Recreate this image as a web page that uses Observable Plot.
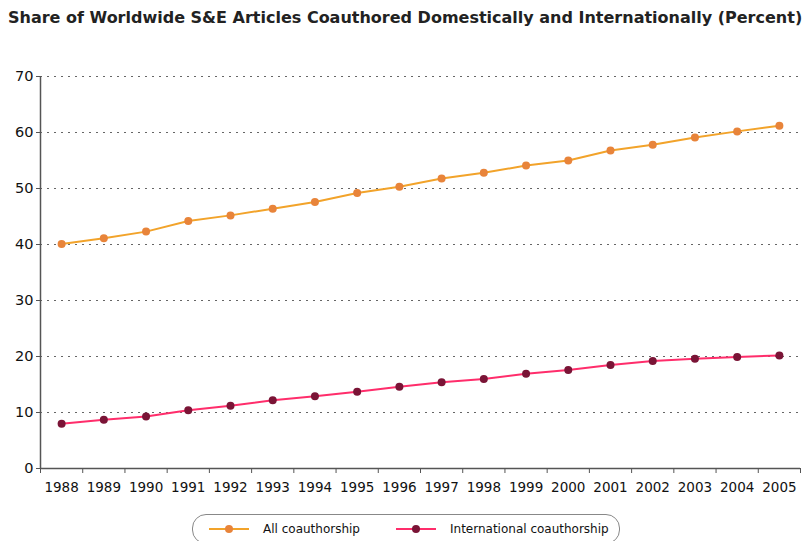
<!DOCTYPE html>
<html>
<head>
<meta charset="utf-8">
<script src="https://cdn.jsdelivr.net/npm/d3@7"></script>
<script src="https://cdn.jsdelivr.net/npm/@observablehq/plot@0.6"></script>
<style>
  body { margin: 0; background: #fff; font-family: "DejaVu Sans", sans-serif; }
  #title { height: 36px; line-height: 36px; padding-left: 8px; font-size: 16px; font-weight: bold; color: #222; white-space: nowrap; }
  #legend { position: absolute; left: 192px; top: 514px; width: 428px; height: 30px; border: 1.5px solid #888; border-radius: 14px; box-sizing: border-box; display: flex; align-items: center; font-size: 12px; color: #111; }
  .item { display: flex; align-items: center; }
  .sym { position: relative; width: 40px; height: 10px; margin-right: 14px; }
  .sym .ln { position: absolute; left: 0; right: 0; top: 4px; height: 2px; }
  .sym .dt { position: absolute; left: 16px; top: 1px; width: 8px; height: 8px; border-radius: 50%; }
</style>
</head>
<body>
<div id="title">Share of Worldwide S&amp;E Articles Coauthored Domestically and Internationally (Percent)</div>
<div id="chart"></div>
<div id="legend"></div>
<script>
const years = [1988,1989,1990,1991,1992,1993,1994,1995,1996,1997,1998,1999,2000,2001,2002,2003,2004,2005];
const allCoauthorship = [40.1,41.1,42.3,44.2,45.2,46.4,47.6,49.2,50.3,51.8,52.8,54.1,55.0,56.8,57.8,59.1,60.2,61.2];
const internationalCoauthorship = [8.0,8.7,9.3,10.4,11.2,12.2,12.9,13.7,14.6,15.4,16.0,16.9,17.6,18.5,19.2,19.6,19.9,20.2];
const yTicks = [0,10,20,30,40,50,60,70];
const seriesNames = ["All coauthorship", "International coauthorship"];
const lineColors = ["#f2a32a", "#ff2d6b"];
const dotColors = ["#e8843a", "#7a1436"];

const data = [];
years.forEach((y, i) => {
  data.push({year: y, value: allCoauthorship[i], series: seriesNames[0]});
  data.push({year: y, value: internationalCoauthorship[i], series: seriesNames[1]});
});
const boundaries = years.map(y => y - 0.5).concat([years[years.length - 1] + 0.5]);

const chart = Plot.plot({
  width: 805,
  height: 467,
  marginLeft: 40,
  marginRight: 5,
  marginTop: 40,
  marginBottom: 35,
  style: {fontFamily: "DejaVu Sans, sans-serif", fontSize: "13px", color: "#111", background: "#fff"},
  x: {type: "linear", domain: [years[0] - 0.5, years[years.length - 1] + 0.5]},
  y: {domain: [0, 70]},
  color: {domain: seriesNames, range: lineColors},
  marks: [
    Plot.gridY(yTicks.filter(d => d > 0), {stroke: "#666", strokeOpacity: 1, strokeDasharray: "2,5", strokeWidth: 1.2}),
    Plot.axisY({ticks: yTicks, tickSize: 4, tickPadding: 3, label: null, fontSize: 14.5, stroke: "#555"}),
    Plot.axisX({ticks: boundaries, tickSize: 5, tickFormat: () => "", label: null, stroke: "#555"}),
    Plot.axisX({ticks: years, tickSize: 0, tickPadding: 14, tickFormat: d => String(d), label: null, fontSize: 13.5}),
    Plot.ruleY([0], {stroke: "#555", strokeWidth: 1.5}),
    Plot.ruleX([boundaries[0]], {stroke: "#555", strokeWidth: 1.5}),
    Plot.line(data, {x: "year", y: "value", z: "series", stroke: "series", strokeWidth: 2}),
    Plot.dot(data, {x: "year", y: "value", r: 4, fill: d => dotColors[seriesNames.indexOf(d.series)], stroke: "none"})
  ]
});
document.getElementById("chart").appendChild(chart);

const legend = document.getElementById("legend");
seriesNames.forEach((name, i) => {
  const item = document.createElement("div");
  item.className = "item";
  item.style.marginLeft = i === 0 ? "16px" : "36px";
  item.innerHTML = `<div class="sym"><div class="ln" style="background:${lineColors[i]}"></div><div class="dt" style="background:${dotColors[i]}"></div></div><span>${name}</span>`;
  legend.appendChild(item);
});
</script>
</body>
</html>
